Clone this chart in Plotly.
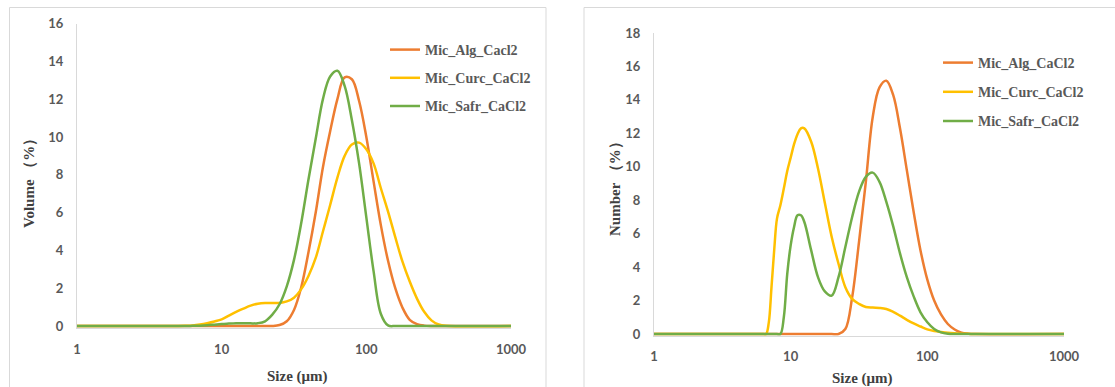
import plotly.graph_objects as go

W, H = 1115, 387

# ---------- Volume distribution (left panel) ----------
vol_size = [1, 5.01, 5.62, 6.31, 7.08, 7.94, 8.91, 10.0, 11.22, 12.59, 14.13, 15.85,
            17.78, 19.95, 22.39, 25.12, 28.18, 31.62, 35.48, 39.81, 44.67, 50.12, 56.23,
            63.10, 70.79, 79.43, 89.13, 100.0, 112.2, 125.9, 141.3, 158.5, 177.8, 199.5,
            223.9, 251.2, 281.8, 316.2, 354.8, 1000]

alg_vol = [0, 0, 0, 0, 0, 0, 0, 0, 0, 0, 0, 0, 0, 0,
           0, 0.05, 0.25, 0.85, 2.05, 3.9, 6.0, 8.4, 10.3, 12.0, 13.15, 13.05, 11.9,
           10.0, 7.65, 5.35, 3.45, 2.0, 0.97, 0.33, 0.1, 0.02, 0, 0, 0, 0]

curc_vol = [0, 0, 0.01, 0.03, 0.08, 0.15, 0.24, 0.35, 0.55, 0.75, 0.92, 1.08, 1.18, 1.22,
            1.22, 1.22, 1.30, 1.5, 1.95, 2.65, 3.6, 5.0, 6.4, 7.85, 9.0, 9.6, 9.7,
            9.35, 8.6, 7.3, 6.05, 4.7, 3.4, 2.35, 1.45, 0.75, 0.3, 0.08, 0.01, 0]

safr_vol = [0, 0, 0, 0.01, 0.02, 0.04, 0.07, 0.1, 0.13, 0.15, 0.15, 0.14, 0.15, 0.25,
            0.6, 1.15, 2.1, 3.5, 5.45, 7.75, 9.9, 12.0, 13.2, 13.5, 12.7, 10.9, 8.6,
            5.75, 2.9, 0.65, 0.03, 0, 0, 0, 0, 0, 0, 0, 0, 0]

# ---------- Number distribution (right panel) ----------
num_size = [1, 6.31, 6.61, 6.92, 7.24, 7.59, 7.94, 8.41, 8.91, 9.44, 10.0, 10.59, 11.22,
            11.89, 12.59, 14.13, 15.85, 17.78, 19.95, 22.39, 25.12, 28.18, 31.62, 35.48,
            39.81, 44.67, 50.12, 56.23, 63.10, 70.79, 79.43, 89.13, 100.0, 112.2, 125.9,
            141.3, 158.5, 177.8, 199.5, 223.9, 1000]

alg_num = [0, 0, 0, 0, 0, 0, 0, 0, 0, 0, 0, 0, 0, 0, 0,
           0, 0, 0, 0, 0, 0.3, 2.2, 5.5, 9.1, 12.95, 14.75, 15.15, 14.3, 12.3, 9.8,
           7.3, 5.0, 3.25, 2.0, 1.17, 0.6, 0.27, 0.08, 0.02, 0, 0]

curc_num = [0, 0, 0, 0.7, 2.8, 5.1, 6.9, 7.7, 8.7, 9.75, 10.55, 11.35, 11.95, 12.3, 12.3,
            11.5, 9.9, 7.85, 5.82, 4.2, 2.8, 2.1, 1.8, 1.62, 1.58, 1.56, 1.5, 1.33, 1.1,
            0.85, 0.63, 0.45, 0.28, 0.18, 0.12, 0.07, 0.04, 0.02, 0.01, 0, 0]

safr_num = [0, 0, 0, 0, 0, 0, 0, 0, 1.0, 3.6, 5.3, 6.4, 7.1, 7.1, 6.7,
            5.0, 3.4, 2.55, 2.3, 3.4, 5.2, 7.0, 8.5, 9.4, 9.65, 9.1, 7.9, 6.45, 4.82,
            3.4, 2.25, 1.3, 0.7, 0.3, 0.1, 0.02, 0, 0, 0, 0, 0]

size_ticks = [1, 10, 100, 1000]
vol_ticks = list(range(0, 17, 2))
num_ticks = list(range(0, 19, 2))

ORANGE, YELLOW, GREEN = "#ED7D31", "#FFC000", "#70AD47"
GRID = "#D9D9D9"
TEXT = "#595959"

fig = go.Figure()

def add_series(x, y, name, color, xa, ya, legend, group):
    fig.add_trace(go.Scatter(
        x=x, y=y, name=name, mode="lines",
        line=dict(color=color, width=2.5, shape="spline", smoothing=1.0),
        xaxis=xa, yaxis=ya, legend=legend, legendgroup=group,
        hoverinfo="skip",
    ))

add_series(vol_size, alg_vol, "Mic_Alg_Cacl2", ORANGE, "x", "y", "legend", "a1")
add_series(vol_size, curc_vol, "Mic_Curc_CaCl2", YELLOW, "x", "y", "legend", "c1")
add_series(vol_size, safr_vol, "Mic_Safr_CaCl2", GREEN, "x", "y", "legend", "s1")

add_series(num_size, alg_num, "Mic_Alg_CaCl2", ORANGE, "x2", "y2", "legend2", "a2")
add_series(num_size, curc_num, "Mic_Curc_CaCl2", YELLOW, "x2", "y2", "legend2", "c2")
add_series(num_size, safr_num, "Mic_Safr_CaCl2", GREEN, "x2", "y2", "legend2", "s2")

tickfont = dict(family="Lato", size=13, color=TEXT, weight="bold")

def xaxis(domain, anchor):
    return dict(domain=domain, anchor=anchor, type="log", range=[0, 3],
                tickvals=size_ticks, ticktext=[str(v) for v in size_ticks],
                showline=True, linecolor=GRID, linewidth=1, showgrid=False,
                zeroline=False, ticks="", tickfont=tickfont, ticklabelstandoff=9,
                automargin=False)

def yaxis(domain, anchor, top, ticks):
    return dict(domain=domain, anchor=anchor, range=[-0.1, top], tickvals=ticks,
                showline=True, linecolor=GRID, linewidth=1, showgrid=False,
                zeroline=False, ticks="", tickfont=tickfont, ticklabelstandoff=10,
                automargin=False)

legend_font = dict(family="Liberation Serif", size=14, color=TEXT, weight="bold")

fig.update_layout(
    width=W, height=H, autosize=False,
    margin=dict(l=0, r=0, t=0, b=0, pad=0, autoexpand=False),
    paper_bgcolor="white", plot_bgcolor="white",
    xaxis=xaxis([77 / W, 511 / W], "y"),
    yaxis=yaxis([1 - 327.9 / H, 1 - 23.5 / H], "x", 16, vol_ticks),
    xaxis2=xaxis([654 / W, 1064 / W], "y2"),
    yaxis2=yaxis([1 - 335.7 / H, 1 - 33 / H], "x2", 18, num_ticks),
    legend=dict(x=385 / W, y=1 - 34 / H, xanchor="left", yanchor="top",
                font=legend_font, bgcolor="rgba(0,0,0,0)", itemwidth=30,
                tracegroupgap=7, traceorder="grouped"),
    legend2=dict(x=938 / W, y=1 - 47 / H, xanchor="left", yanchor="top",
                 font=legend_font, bgcolor="rgba(0,0,0,0)", itemwidth=30,
                 tracegroupgap=8, traceorder="grouped"),
    showlegend=True,
)

# chart-area frames
fig.add_shape(type="rect", xref="paper", yref="paper",
              x0=9.5 / W, x1=546 / W, y0=-0.05, y1=1 - 7.5 / H,
              line=dict(color=GRID, width=1), fillcolor="rgba(0,0,0,0)", layer="below")
fig.add_shape(type="rect", xref="paper", yref="paper",
              x0=584 / W, x1=1.05, y0=-0.05, y1=1 - 7.5 / H,
              line=dict(color=GRID, width=1), fillcolor="rgba(0,0,0,0)", layer="below")

title_font = dict(family="Liberation Serif", size=15, color="#404040", weight="bold")

def label(text, x, y, angle=0):
    fig.add_annotation(text=text, x=x / W, y=1 - y / H, xref="paper", yref="paper",
                       showarrow=False, textangle=angle, font=title_font,
                       xanchor="center", yanchor="middle")

label("Size (μm)", 297, 376)
label("Size (μm)", 862, 378)
label("Volume （%）", 29, 180, -90)
label("Number （%）", 615, 185, -90)

fig.write_html(
    "out.html",
    post_script="document.body.style.margin='0';document.body.style.overflow='hidden';",
)
